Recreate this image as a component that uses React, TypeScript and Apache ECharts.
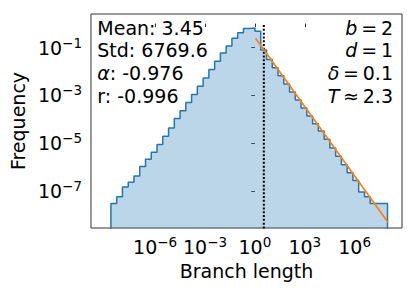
import React, { useEffect, useRef } from "react";
import * as echarts from "echarts";

// Histogram: 48 log-spaced bins between binLow and binHigh
const binCount = 48;
const binLow = 2.19e-9;
const binHigh = 9.5e7;
const freq = [
  3.1e-8, 5.9e-8, 1.5e-7, 2.4e-7, 4.4e-7, 1.1e-6, 2.2e-6, 4.3e-6, 8.9e-6, 2.0e-5,
  4.4e-5, 1.1e-4, 2.3e-4, 5.1e-4, 1.1e-3, 2.4e-3, 5.4e-3, 1.2e-2, 2.7e-2, 5.9e-2,
  0.117, 0.245, 0.417, 0.63, 0.66, 0.48, 0.079, 0.032, 0.0145, 6.6e-3,
  3.0e-3, 1.4e-3, 6.5e-4, 3.0e-4, 1.4e-4, 6.6e-5, 3.3e-5, 1.5e-5, 6.5e-6, 2.9e-6,
  1.3e-6, 5.9e-7, 2.8e-7, 9.3e-8, 5.9e-8, 3.1e-8, 3.1e-8, 3.1e-8,
];
// Power-law fit line endpoints
const fitX = [1.1, 1.0e8];
const fitY = [0.245, 5.1e-9];
// Mean marker
const meanValue = 3.45;
const meanTop = 1;
// Axis ranges (log10) and ticks (exponents)
const xRange = [-9.86, 8.85];
const yRange = [-8.53, 0.4];
const xTicks = [-6, -3, 0, 3, 6];
const yTicks = [-7, -5, -3, -1];
const leftNotes = ["Mean: 3.45", "Std: 6769.6", "{i|α}: -0.976", "r: -0.996"];
const rightNotes = ["{i|b}\u2009=\u20092", "{i|d}\u2009=\u20091", "{i|δ}\u2009=\u20090.1", "{i|T}\u2009≈\u20092.3"];

const FONT = "DejaVu Sans";
const lg = (v: number) => Math.log10(v);

const supLabel = (v: number) => {
  const e = v < 0 ? "\u2212" + Math.abs(v) : String(v);
  return `{b|10}{s|${e}}`;
};
const tickRich = {
  b: { fontSize: 19, fontFamily: FONT, color: "#000", lineHeight: 24 },
  s: { fontSize: 13.5, fontFamily: FONT, color: "#000", lineHeight: 13, verticalAlign: "top" },
};

export default function App() {
  const ref = useRef<HTMLDivElement>(null);
  useEffect(() => {
    if (!ref.current) return;
    const chart = echarts.init(ref.current, undefined, { renderer: "svg" });
    const lo = lg(binLow);
    const hi = lg(binHigh);
    const w = (hi - lo) / binCount;
    const base = -9.5;
    const histPts: number[][] = [[lo, base]];
    freq.forEach((f, i) => {
      histPts.push([lo + i * w, lg(f)]);
      histPts.push([lo + (i + 1) * w, lg(f)]);
    });
    histPts.push([hi, base]);

    const noteY = [27.7, 50.3, 72.9, 95.5];
    const italic = { i: { fontStyle: "italic", fontFamily: FONT, fontSize: 19, fill: "#000", color: "#000" } };
    const graphics: any[] = [];
    leftNotes.forEach((t, k) => {
      graphics.push({
        type: "text",
        x: 97.3,
        y: noteY[k],
        z: 10,
        style: {
          text: t,
          fontFamily: FONT,
          fontSize: 19,
          fill: "#000",
          textAlign: "left",
          textVerticalAlign: "middle",
          align: "left",
          verticalAlign: "middle",
          rich: italic,
        },
      });
    });
    rightNotes.forEach((t, k) => {
      graphics.push({
        type: "text",
        x: 393,
        y: noteY[k],
        z: 10,
        style: {
          text: t,
          fontFamily: FONT,
          fontSize: 19,
          fill: "#000",
          textAlign: "right",
          textVerticalAlign: "middle",
          align: "right",
          verticalAlign: "middle",
          rich: italic,
        },
      });
    });

    chart.setOption({
      animation: false,
      grid: {
        left: 90,
        top: 14,
        width: 312,
        height: 214,
        show: true,
        borderColor: "#333",
        borderWidth: 1,
        backgroundColor: "transparent",
        containLabel: false,
      },
      xAxis: {
        type: "value",
        min: xRange[0],
        max: xRange[1],
        name: "Branch length",
        nameLocation: "middle",
        nameGap: 31,
        nameTextStyle: { fontFamily: FONT, fontSize: 19, color: "#000" },
        axisLine: { show: false },
        splitLine: { show: false },
        axisTick: { show: true, customValues: xTicks, length: 3.5, lineStyle: { color: "#333", width: 1 } },
        axisLabel: {
          show: true,
          customValues: xTicks,
          margin: 7,
          formatter: (v: number) => supLabel(v),
          rich: tickRich,
        },
      },
      yAxis: {
        type: "value",
        min: yRange[0],
        max: yRange[1],
        name: "Frequency",
        nameLocation: "middle",
        nameGap: 60,
        nameTextStyle: { fontFamily: FONT, fontSize: 19, color: "#000" },
        axisLine: { show: false },
        splitLine: { show: false },
        axisTick: { show: true, customValues: yTicks, length: 3.5, lineStyle: { color: "#333", width: 1 } },
        axisLabel: {
          show: true,
          customValues: yTicks,
          margin: 9,
          formatter: (v: number) => supLabel(v),
          rich: tickRich,
        },
      },
      series: [
        {
          type: "line",
          data: histPts,
          showSymbol: false,
          symbol: "none",
          clip: true,
          lineStyle: { color: "#1f77b4", width: 1.5 },
          areaStyle: { color: "rgba(31,119,180,0.3)", origin: "start", opacity: 1 },
          z: 2,
        },
        {
          type: "line",
          data: [
            [lg(meanValue), base],
            [lg(meanValue), lg(meanTop)],
          ],
          showSymbol: false,
          symbol: "none",
          clip: true,
          lineStyle: { color: "#000", width: 2, type: [2, 1.8] },
          z: 3,
        },
        {
          type: "line",
          data: fitX.map((x, i) => [lg(x), lg(fitY[i])]),
          showSymbol: false,
          symbol: "none",
          clip: true,
          lineStyle: { color: "#ff7f0e", width: 1.8 },
          z: 4,
        },
      ],
      graphic: graphics,
    });
    return () => chart.dispose();
  }, []);
  return (
    <div
      ref={ref}
      style={{ position: "absolute", left: 0, top: 0, width: 416, height: 291, background: "#fff" }}
    />
  );
}
